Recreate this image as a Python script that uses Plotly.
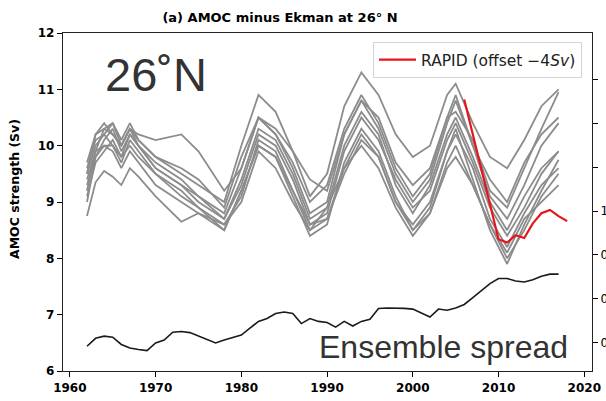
import plotly.graph_objects as go

# ---------------- data ----------------
member_years = [1962, 1963, 1964, 1965, 1966, 1967, 1968, 1970, 1973, 1975, 1978, 1980,
                1982, 1984, 1986, 1988, 1990, 1992, 1994, 1996, 1998, 2000, 2002, 2004,
                2005, 2007, 2009, 2011, 2013, 2015, 2017]

member_a = [9.6, 10.1, 10.2, 10.4, 10.0, 10.3, 10.1, 9.8, 9.5, 9.3, 9.0, 10.0, 10.9, 10.6, 9.9, 9.1,
            9.5, 10.7, 11.3, 10.9, 10.2, 9.8, 10.0, 10.9, 11.1, 10.4, 9.8, 9.6, 10.1, 10.7, 11.0]
member_b = [9.5, 10.2, 10.3, 10.2, 10.0, 10.3, 10.2, 10.1, 10.2, 9.9, 9.2, 9.6, 10.5, 10.3, 9.9, 9.4,
            9.2, 10.2, 10.8, 10.5, 9.7, 9.3, 9.6, 10.5, 10.6, 10.1, 9.2, 8.9, 9.6, 10.3, 10.95]
member_c = [9.0, 9.8, 10.1, 10.3, 9.9, 10.2, 10.0, 9.6, 9.3, 9.0, 8.7, 9.3, 10.2, 10.0, 9.4, 8.6,
            8.8, 9.9, 10.5, 10.1, 9.4, 8.9, 9.2, 10.1, 10.4, 9.7, 8.9, 8.4, 8.9, 9.5, 9.9]
member_d = [9.4, 9.9, 10.0, 10.0, 9.7, 10.1, 9.9, 9.5, 9.2, 8.9, 8.5, 9.2, 10.0, 9.8, 9.1, 8.4,
            8.6, 9.7, 10.3, 9.9, 9.1, 8.5, 8.9, 9.9, 10.3, 9.4, 8.5, 7.9, 8.6, 9.2, 9.75]
member_e = [8.75, 9.35, 9.55, 9.45, 9.3, 9.6, 9.45, 9.1, 8.65, 8.8, 8.6, 9.0, 9.9, 9.6, 9.0, 8.5,
            8.9, 9.6, 10.0, 9.6, 8.9, 8.4, 8.8, 9.6, 9.8, 9.3, 8.6, 8.1, 8.7, 9.0, 9.3]
member_f = [9.7, 10.2, 10.4, 10.2, 10.0, 10.3, 10.0, 9.7, 9.4, 9.1, 8.8, 9.6, 10.5, 10.2, 9.6, 8.8,
            9.0, 10.2, 10.8, 10.3, 9.5, 9.0, 9.4, 10.4, 10.8, 10.0, 9.4, 9.0, 9.7, 10.2, 10.5]
member_g = [9.1, 9.7, 9.9, 10.1, 9.8, 10.0, 9.8, 9.5, 9.1, 8.9, 8.6, 9.1, 10.1, 9.9, 9.2, 8.6,
            8.7, 9.5, 10.1, 9.8, 9.0, 8.6, 9.0, 9.9, 10.2, 9.6, 8.7, 8.2, 8.8, 9.3, 9.6]
member_h = [9.5, 10.0, 10.2, 10.0, 9.8, 10.2, 10.0, 9.6, 9.3, 9.1, 8.7, 9.4, 10.3, 10.1, 9.5, 8.7,
            8.9, 10.0, 10.6, 10.2, 9.3, 8.8, 9.3, 10.2, 10.5, 9.8, 9.0, 8.5, 9.1, 9.6, 9.9]
member_i = [9.2, 9.9, 10.3, 10.4, 10.1, 10.4, 10.1, 9.8, 9.6, 9.4, 8.9, 9.8, 10.5, 10.2, 9.7, 9.0,
            9.3, 10.3, 10.9, 10.4, 9.6, 9.1, 9.5, 10.5, 10.9, 10.0, 9.1, 8.7, 9.3, 10.0, 10.4]
member_j = [9.3, 9.8, 10.0, 9.9, 9.6, 9.9, 9.7, 9.3, 9.0, 8.8, 8.5, 9.2, 10.0, 9.8, 9.2, 8.5,
            8.7, 9.6, 10.2, 9.8, 9.0, 8.5, 8.8, 9.7, 10.0, 9.3, 8.6, 8.0, 8.5, 9.1, 9.5]
members = [member_a, member_b, member_c, member_d, member_e,
           member_f, member_g, member_h, member_i, member_j]

rapid_years = [2006, 2010, 2011, 2012, 2013, 2014, 2015, 2016, 2017, 2018]
rapid_values = [10.82, 8.34, 8.28, 8.41, 8.36, 8.62, 8.80, 8.86, 8.75, 8.66]

spread_years = list(range(1962, 2018))
spread_values = [0.385, 0.421, 0.431, 0.426, 0.393, 0.377, 0.370, 0.365, 0.400, 0.413,
                 0.449, 0.452, 0.447, 0.431, 0.413, 0.400, 0.413, 0.426, 0.436, 0.467,
                 0.498, 0.511, 0.534, 0.541, 0.534, 0.488, 0.511, 0.498, 0.493, 0.472,
                 0.498, 0.477, 0.498, 0.508, 0.557, 0.559, 0.559, 0.557, 0.554, 0.536,
                 0.518, 0.554, 0.549, 0.559, 0.575, 0.606, 0.636, 0.670, 0.693, 0.693,
                 0.682, 0.677, 0.687, 0.703, 0.713, 0.713]

left_ticks = [6, 7, 8, 9, 10, 11, 12]
x_ticks = [1960, 1970, 1980, 1990, 2000, 2010, 2020]
right_ticks = [0.4, 0.6, 0.8, 1.0, 1.2, 1.4, 1.6]
right_ticktext = ["0.4", "0.6", "0.8", "1.0", "", "", ""]

title_text = "(a) AMOC minus Ekman at 26\u00b0 N"
ylabel_text = "AMOC strength (Sv)"
legend_text = "RAPID (offset \u22124<i>Sv</i>)"

# ---------------- layout helpers ----------------
W, H = 606, 401
L, R, T, B = 63, 592, 33, 371


def px_x(px):
    return (px - L) / (R - L)


def px_y(py):
    return (B - py) / (B - T)


fig = go.Figure()

for vals in members:
    fig.add_trace(go.Scatter(x=member_years, y=vals, mode="lines",
                             line=dict(color="#8c8c8c", width=1.8),
                             showlegend=False, hoverinfo="skip"))

fig.add_trace(go.Scatter(x=spread_years, y=spread_values, mode="lines", yaxis="y2",
                         line=dict(color="#1a1a1a", width=1.6),
                         showlegend=False))

fig.add_trace(go.Scatter(x=rapid_years, y=rapid_values, mode="lines",
                         line=dict(color="#e8141c", width=2.2),
                         name=legend_text, showlegend=True))

tick_font = dict(family="DejaVu Sans", size=12, color="black", weight="bold")

fig.update_layout(
    width=W, height=H,
    margin=dict(l=L, r=W - R, t=T, b=H - B, pad=0, autoexpand=False),
    plot_bgcolor="white", paper_bgcolor="white",
    xaxis=dict(range=[1959.2, 2020.9], tickvals=x_ticks, ticks="outside", ticklen=5,
               tickwidth=1, tickcolor="black", showline=True, linecolor="#222",
               linewidth=1.3, mirror=True, showgrid=False, zeroline=False,
               tickfont=tick_font, automargin=False),
    yaxis=dict(range=[6, 12], tickvals=left_ticks, ticks="outside", ticklen=5,
               tickwidth=1, tickcolor="black", showline=True, linecolor="#222",
               linewidth=1.3, mirror=True, showgrid=False, zeroline=False,
               tickfont=tick_font, automargin=False),
    yaxis2=dict(range=[0.2724, 1.8096], overlaying="y", side="right",
                tickvals=right_ticks, ticktext=right_ticktext, ticks="outside",
                ticklen=5, tickwidth=1, tickcolor="black", showline=False,
                showgrid=False, zeroline=False, automargin=False,
                tickfont=dict(family="DejaVu Sans", size=12, color="black")),
    legend=dict(x=px_x(582), y=px_y(42), xanchor="right", yanchor="top",
                itemwidth=37,
                bgcolor="rgba(255,255,255,0.85)", bordercolor="#d4d4d4", borderwidth=1,
                font=dict(family="DejaVu Sans", size=15.5, color="#222")),
    title=dict(text=title_text, x=280 / W, y=1 - 17 / H, xanchor="center",
               yanchor="middle", xref="container", yref="container",
               font=dict(family="DejaVu Sans", size=13, color="black", weight="bold")),
    showlegend=True,
)

fig.add_annotation(text=ylabel_text, x=(14 - L) / (R - L), y=px_y(189), xref="paper",
                   yref="paper", textangle=-90, showarrow=False,
                   xanchor="center", yanchor="middle",
                   font=dict(family="DejaVu Sans", size=12.5, color="black", weight="bold"))

fig.add_annotation(text="26\u02daN", x=px_x(156), y=px_y(75), xref="paper", yref="paper",
                   showarrow=False, xanchor="center", yanchor="middle",
                   font=dict(family="Liberation Sans", size=47, color="#333333"))

fig.add_annotation(text="Ensemble spread", x=px_x(443), y=px_y(347), xref="paper",
                   yref="paper", showarrow=False, xanchor="center", yanchor="middle",
                   font=dict(family="Liberation Sans", size=32, color="#333333"))

fig.write_html("out.html")
